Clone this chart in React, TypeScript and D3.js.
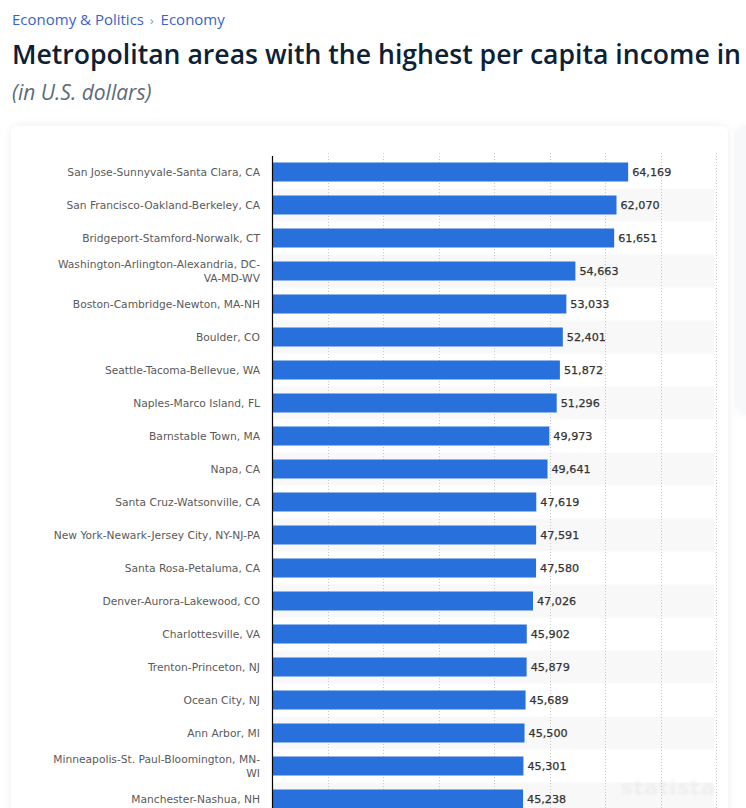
import React, { useEffect, useRef } from "react";
import * as d3 from "d3";

const categories: string[][] = [
  ["San Jose-Sunnyvale-Santa Clara, CA"],
  ["San Francisco-Oakland-Berkeley, CA"],
  ["Bridgeport-Stamford-Norwalk, CT"],
  ["Washington-Arlington-Alexandria, DC-", "VA-MD-WV"],
  ["Boston-Cambridge-Newton, MA-NH"],
  ["Boulder, CO"],
  ["Seattle-Tacoma-Bellevue, WA"],
  ["Naples-Marco Island, FL"],
  ["Barnstable Town, MA"],
  ["Napa, CA"],
  ["Santa Cruz-Watsonville, CA"],
  ["New York-Newark-Jersey City, NY-NJ-PA"],
  ["Santa Rosa-Petaluma, CA"],
  ["Denver-Aurora-Lakewood, CO"],
  ["Charlottesville, VA"],
  ["Trenton-Princeton, NJ"],
  ["Ocean City, NJ"],
  ["Ann Arbor, MI"],
  ["Minneapolis-St. Paul-Bloomington, MN-", "WI"],
  ["Manchester-Nashua, NH"],
];

const values: number[] = [
  64169, 62070, 61651, 54663, 53033, 52401, 51872, 51296, 49973, 49641,
  47619, 47591, 47580, 47026, 45902, 45879, 45689, 45500, 45301, 45238,
];

const gridTicks: number[] = [0, 10000, 20000, 30000, 40000, 50000, 60000, 70000, 80000];

const breadcrumb1 = "Economy & Politics";
const breadcrumb2 = "Economy";
const title = "Metropolitan areas with the highest per capita income in";
const subtitle = "(in U.S. dollars)";

export default function App() {
  const ref = useRef<SVGSVGElement>(null);

  useEffect(() => {
    document.body.style.margin = "0";
    const svg = d3.select(ref.current);
    svg.selectAll("*").remove();

    const W = 746, H = 808;
    const defs = svg.append("defs");
    const f = defs.append("filter").attr("id", "sh").attr("x", "-10%").attr("y", "-10%").attr("width", "120%").attr("height", "120%");
    f.append("feDropShadow").attr("dx", 0).attr("dy", 0).attr("stdDeviation", 4).attr("flood-color", "#000").attr("flood-opacity", 0.07);
    const bl = defs.append("filter").attr("id", "blur");
    bl.append("feGaussianBlur").attr("stdDeviation", 1.5);

    svg.append("rect").attr("width", W).attr("height", H).attr("fill", "#fff");

    // header
    const hdrFont = "'Open Sans', sans-serif";
    const bc = svg.append("text").attr("x", 12).attr("y", 25).attr("font-family", hdrFont).attr("font-size", 15);
    bc.append("tspan").attr("fill", "#3a63c9").text(breadcrumb1);
    bc.append("tspan").attr("fill", "#8a94a0").attr("dx", 6).attr("font-size", 12).text("›");
    bc.append("tspan").attr("fill", "#3a63c9").attr("dx", 7).text(breadcrumb2);

    svg.append("text").attr("x", 12).attr("y", 64).attr("font-family", hdrFont).attr("font-size", 26.6)
      .attr("font-weight", 600).attr("fill", "#0d2136").text(title);
    svg.append("text").attr("x", 12).attr("y", 100).attr("font-family", hdrFont).attr("font-size", 21)
      .attr("font-style", "italic").attr("fill", "#5d6b7a").text(subtitle);

    // side card hint
    svg.append("rect").attr("x", 737).attr("y", 128).attr("width", 30).attr("height", 284).attr("rx", 6)
      .attr("fill", "#f7f8f9").attr("filter", "url(#sh)");
    // main card
    svg.append("rect").attr("x", 11).attr("y", 126).attr("width", 717).attr("height", 720).attr("rx", 7)
      .attr("fill", "#fff").attr("filter", "url(#sh)");

    const x0 = 272, x1 = 716;
    const x = d3.scaleLinear().domain([0, 80000]).range([x0, x1]);
    const idx = categories.map((_, i) => String(i));
    const rowTop = 155.5, step = 33;
    const y = d3.scaleBand().domain(idx).range([rowTop, rowTop + step * categories.length]).padding(0);
    const barH = 19;

    // alternating bands
    svg.append("g").selectAll("rect").data(idx.filter((_, i) => i % 2 === 1)).join("rect")
      .attr("x", x0).attr("width", 442).attr("y", (d) => y(d)!).attr("height", y.bandwidth())
      .attr("fill", "#f8f8f8");

    // grid
    svg.append("g").selectAll("line").data(gridTicks.slice(1)).join("line")
      .attr("x1", (d) => Math.round(x(d)) + 0.5).attr("x2", (d) => Math.round(x(d)) + 0.5)
      .attr("y1", 153).attr("y2", H)
      .attr("stroke", "#c8c8c8").attr("stroke-width", 1).attr("stroke-dasharray", "1,2");

    // bars
    svg.append("g").selectAll("rect").data(values).join("rect")
      .attr("x", x0).attr("y", (_, i) => y(String(i))! + (step - barH) / 2)
      .attr("width", (d) => x(d) - x0).attr("height", barH).attr("fill", "#2870dc");

    // axis line
    svg.append("line").attr("x1", x0 + 0.5).attr("x2", x0 + 0.5).attr("y1", 156).attr("y2", H)
      .attr("stroke", "#000").attr("stroke-width", 1.2);

    const chartFont = "'DejaVu Sans', Verdana, sans-serif";
    // category labels
    const lg = svg.append("g").attr("font-family", chartFont).attr("font-size", 10.7).attr("fill", "#5a5a5a")
      .attr("text-anchor", "end");
    categories.forEach((lines, i) => {
      const cy = y(String(i))! + step / 2;
      const lh = 14;
      const startY = cy + 4 - ((lines.length - 1) * lh) / 2;
      const t = lg.append("text");
      lines.forEach((l, j) => {
        t.append("tspan").attr("x", 260).attr("y", startY + j * lh).text(l);
      });
    });

    // value labels
    svg.append("g").selectAll("text").data(values).join("text")
      .attr("x", (d) => x(d) + 4).attr("y", (_, i) => y(String(i))! + step / 2 + 4)
      .attr("font-family", chartFont).attr("font-size", 11.2).attr("fill", "#333")
      .attr("stroke", "#333").attr("stroke-width", 0.25)
      .text((d) => d3.format(",")(d));

    // watermark
    svg.append("text").attr("x", 620).attr("y", 795).attr("font-family", chartFont).attr("font-size", 22)
      .attr("font-weight", "bold").attr("fill", "#000").attr("opacity", 0.035).attr("filter", "url(#blur)").text("statista");
  }, []);

  return (
    <svg ref={ref} width={746} height={808} style={{ position: "absolute", left: 0, top: 0, display: "block" }} />
  );
}
